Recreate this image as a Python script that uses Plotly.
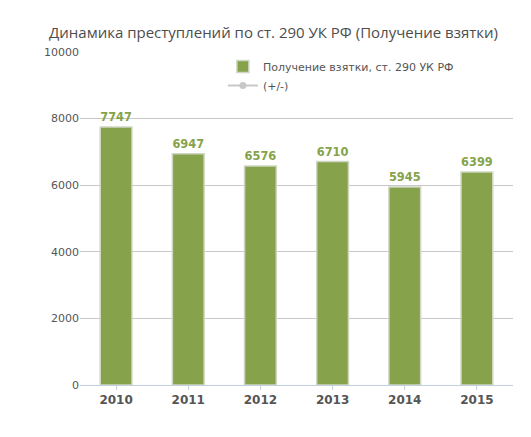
import plotly.graph_objects as go

years = ["2010", "2011", "2012", "2013", "2014", "2015"]
crimes = [7747, 6947, 6576, 6710, 5945, 6399]
yticks = [0, 2000, 4000, 6000, 8000, 10000]

green = "#86a34b"

fig = go.Figure()

fig.add_trace(go.Bar(x=years, y=crimes, name="Получение взятки, ст. 290 УК РФ",
                     marker=dict(color=green, line=dict(color="#d0d6c4", width=1.5)),
                     text=crimes, texttemplate="<b>%{text}</b>", textposition="outside",
                     textfont=dict(color=green, size=12, family="DejaVu Sans"),
                     cliponaxis=False))

fig.add_trace(go.Scatter(x=[None], y=[None], name="(+/-)", mode="lines+markers",
                         line=dict(color="#c8c8c8", width=2),
                         marker=dict(color="#c8c8c8", size=7)))

fig.update_layout(
    width=531, height=437,
    margin=dict(l=72, r=26, t=44, b=60),
    paper_bgcolor="white", plot_bgcolor="white",
    title=dict(text="Динамика преступлений по ст. 290 УК РФ (Получение взятки)",
               x=0.5, xanchor="center", y=0.955,
               font=dict(size=15, color="#4d4d4d", family="Open Sans")),
    font=dict(family="DejaVu Sans", color="#555"),
    bargap=0.56,
    showlegend=True,
    legend=dict(x=0.33, y=1.0, xanchor="left", yanchor="top",
                bgcolor="rgba(255,255,255,0)", font=dict(size=11, color="#555"),
                tracegroupgap=0, itemwidth=30),
)

fig.update_yaxes(range=[0, 10000], tickvals=yticks, ticktext=[str(v) for v in yticks],
                 showgrid=True, gridcolor="#c8c8c8", zeroline=False,
                 tickfont=dict(size=11, color="#555"), ticks="", ticklen=0)
fig.update_xaxes(showline=True, linecolor="#c0d0e0", ticks="outside",
                 tickcolor="#c0d0e0", ticklen=4,
                 tickfont=dict(size=12, color="#555", family="DejaVu Sans"),
                 tickprefix="<b>", ticksuffix="</b>")

fig.write_html("out.html")
